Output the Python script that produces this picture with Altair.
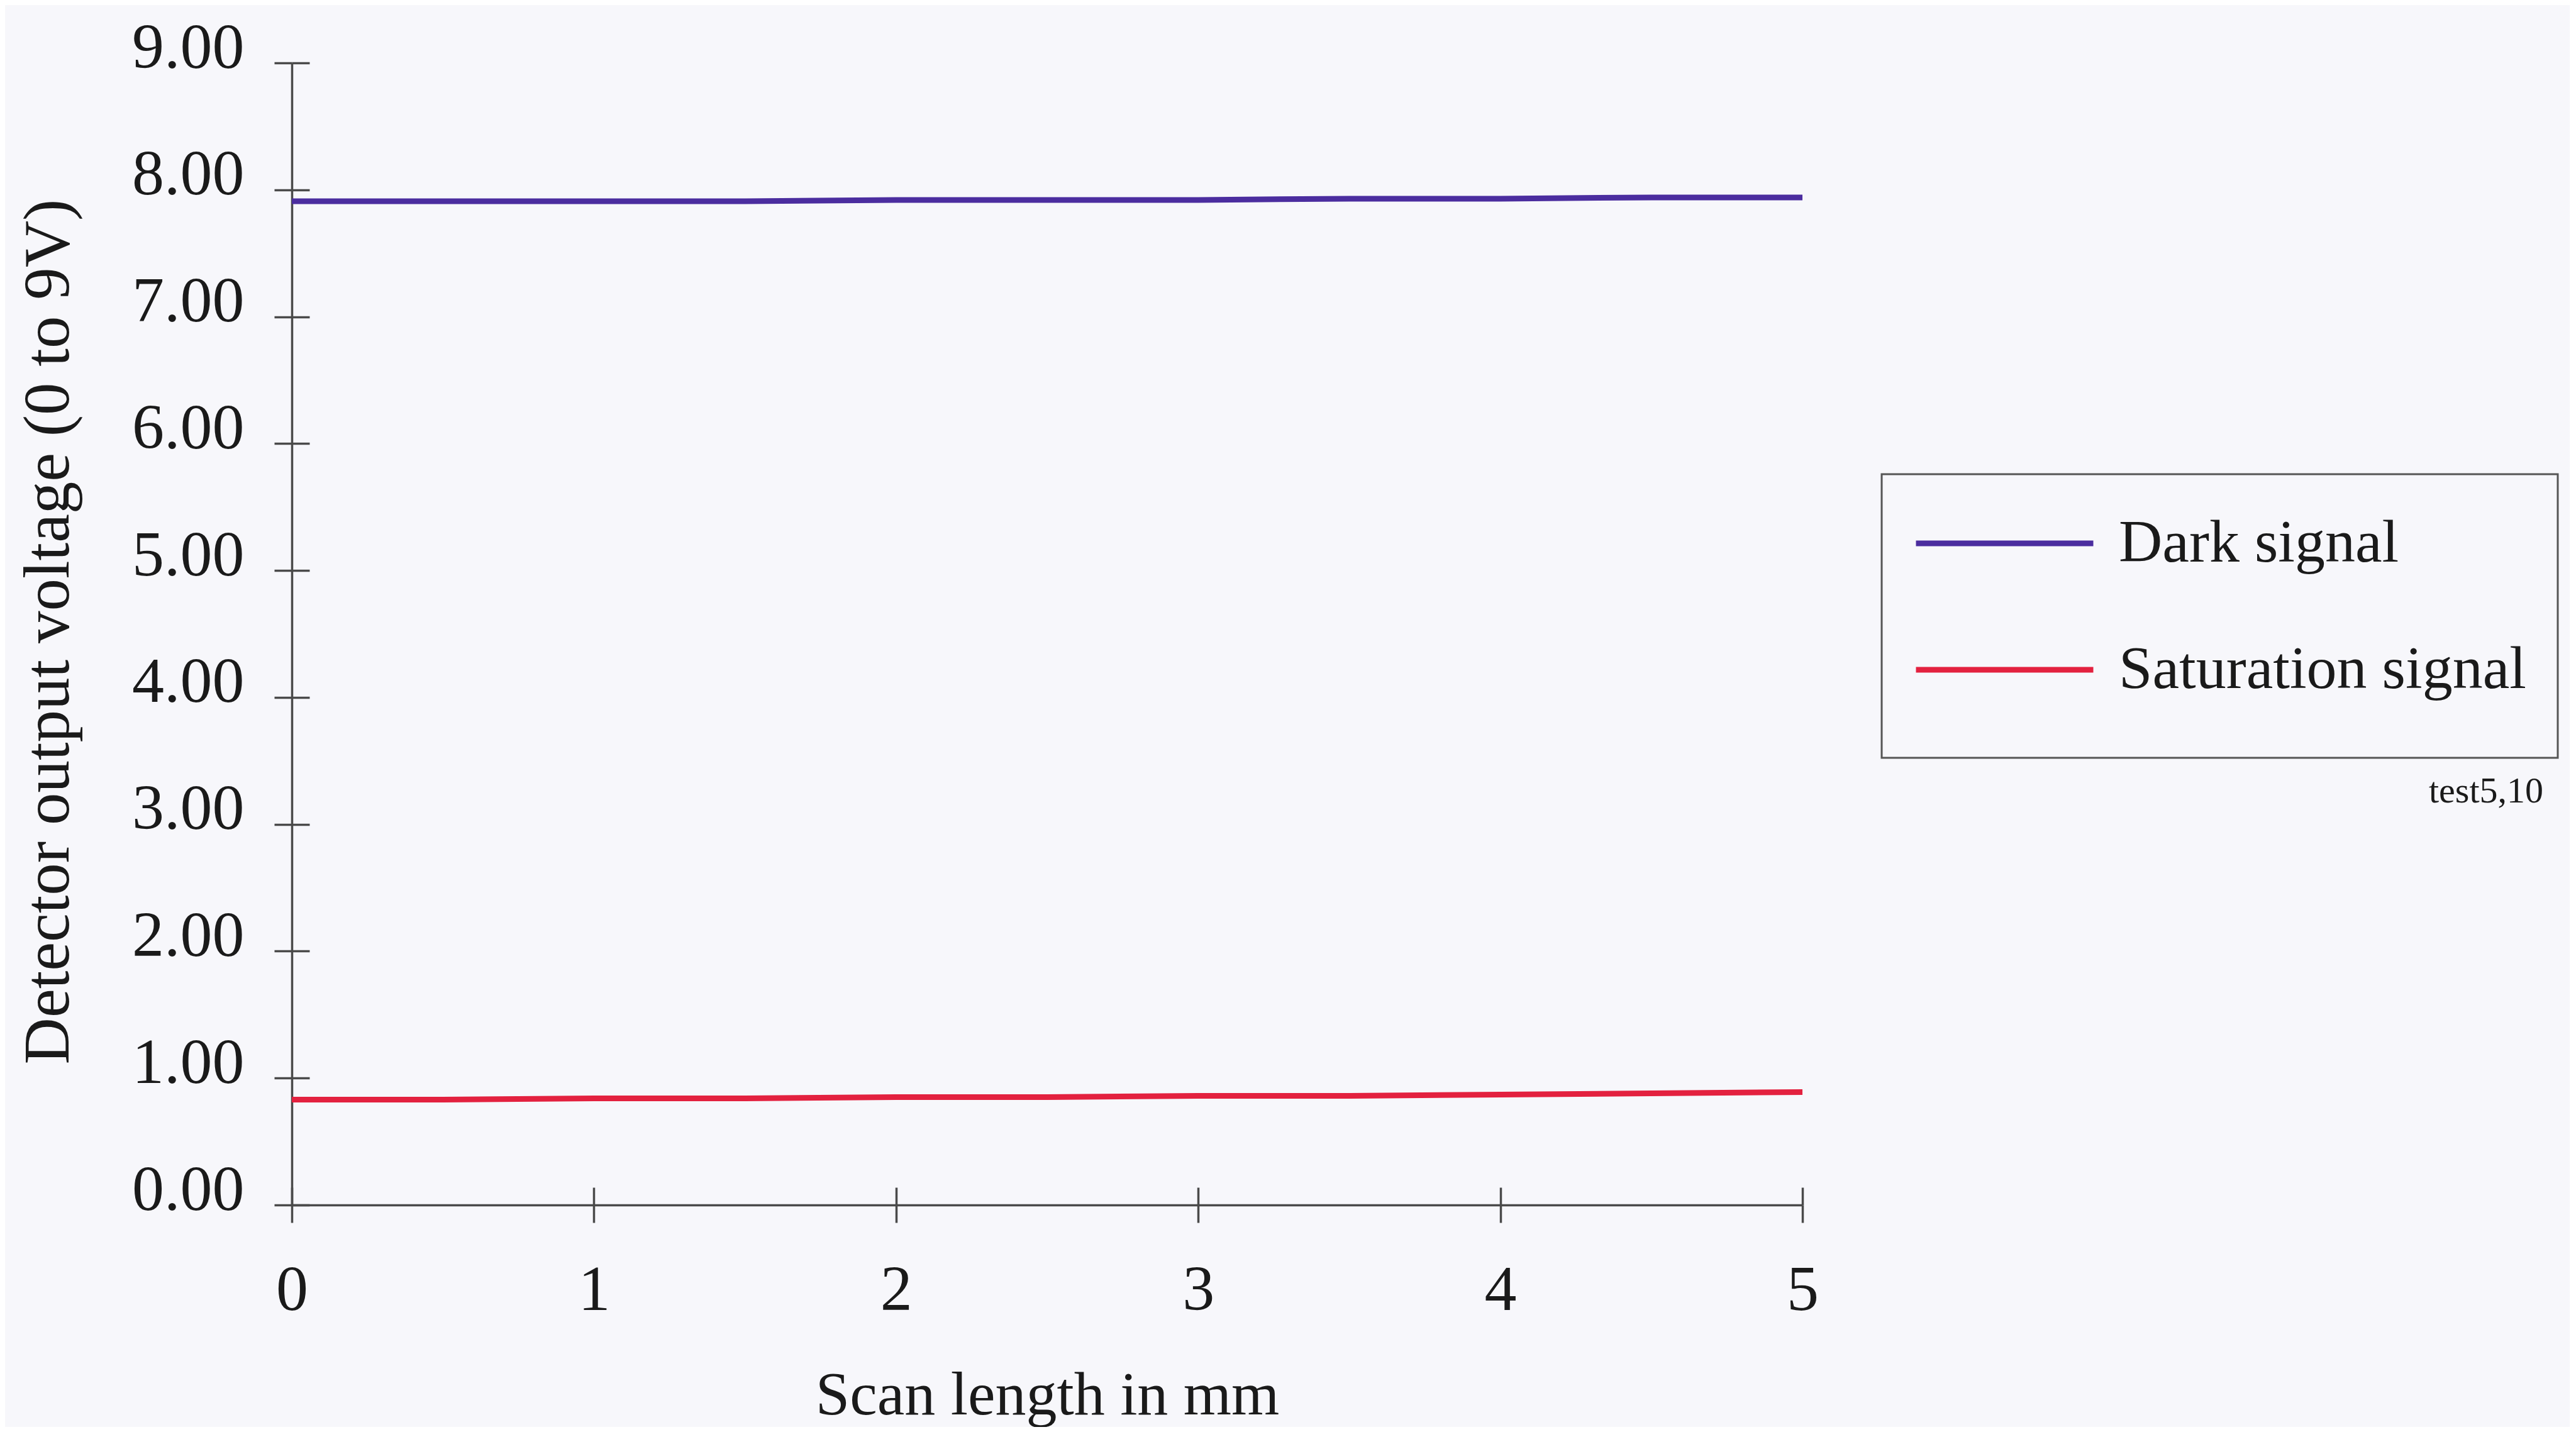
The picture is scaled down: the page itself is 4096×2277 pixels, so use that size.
import altair as alt
import pandas as pd

# --- data ---
scan_mm = [0, 0.5, 1, 1.5, 2, 2.5, 3, 3.5, 4, 4.5, 5]
dark_signal = [7.91, 7.91, 7.91, 7.91, 7.92, 7.92, 7.92, 7.93, 7.93, 7.94, 7.94]
saturation_signal = [0.83, 0.83, 0.84, 0.84, 0.85, 0.85, 0.86, 0.86, 0.87, 0.88, 0.89]
series_names = ["Dark signal", "Saturation signal"]
series_colors = ["#4b2d9f", "#e3213f"]
y_ticks = [0, 1, 2, 3, 4, 5, 6, 7, 8, 9]
x_ticks = [0, 1, 2, 3, 4, 5]
note_text = ["test5,10"]

rows = []
for x, d, s in zip(scan_mm, dark_signal, saturation_signal):
    rows.append({"x": x, "v": d, "series": series_names[0]})
    rows.append({"x": x, "v": s, "series": series_names[1]})
df = pd.DataFrame(rows)

FONT = "Liberation Serif"
AXIS_COLOR = "#4a4a4a"
TICK = 28
W, H = 2402, 1816

xscale = alt.Scale(domain=[0, 5], nice=False, zero=False)
yscale = alt.Scale(domain=[0, 9], nice=False, zero=False)

x_main = alt.Axis(
    values=x_ticks, format="d", grid=False,
    domainColor=AXIS_COLOR, domainWidth=3.5,
    tickColor=AXIS_COLOR, tickWidth=3.5, tickSize=TICK,
    labelFont=FONT, labelFontSize=102, labelColor="#1a1a1a",
    labelBaseline="alphabetic", labelPadding=138, labelFlush=False,
    title="Scan length in mm", titleFont=FONT, titleFontSize=98,
    titleFontWeight="normal", titleColor="#1a1a1a",
    titleBaseline="alphabetic", titleY=332,
)
y_main = alt.Axis(
    values=y_ticks, format=".2f", grid=False,
    domainColor=AXIS_COLOR, domainWidth=3.5,
    tickColor=AXIS_COLOR, tickWidth=3.5, tickSize=TICK,
    labelFont=FONT, labelFontSize=102, labelColor="#1a1a1a",
    labelBaseline="alphabetic", labelOffset=7, labelPadding=48, labelFlush=False,
    title="Detector output voltage (0 to 9V)", titleFont=FONT, titleFontSize=103,
    titleFontWeight="normal", titleColor="#1a1a1a",
    titleBaseline="alphabetic", titleAngle=270, titleX=-356, titleY=904,
)

lines = alt.Chart(df).mark_line(strokeWidth=9).encode(
    x=alt.X("x:Q", scale=xscale, axis=x_main),
    y=alt.Y("v:Q", scale=yscale, axis=y_main),
    color=alt.Color(
        "series:N",
        scale=alt.Scale(domain=series_names, range=series_colors),
        legend=alt.Legend(
            title=" ", titleOrient="bottom", titleFontSize=20, titlePadding=10,
            orient="none", legendX=2528, legendY=654,
            symbolType="stroke", symbolSize=282 * 282, symbolStrokeWidth=9,
            clipHeight=120,
            labelFont=FONT, labelFontSize=96, labelColor="#1a1a1a",
            labelOffset=36, labelLimit=0, rowPadding=81, padding=50,
            strokeColor="#555555", fillColor="#f7f7fb",
        ),
    ),
    detail="series:N",
)

# inner half of the crossing tick marks
inner = alt.Chart(df).mark_line(opacity=0).encode(
    x=alt.X("x:Q", scale=xscale, axis=alt.Axis(
        orient="bottom", offset=-TICK, values=x_ticks, domain=False, labels=False,
        grid=False, tickColor=AXIS_COLOR, tickWidth=3.5, tickSize=TICK, title=None)),
    y=alt.Y("v:Q", scale=yscale, axis=alt.Axis(
        orient="left", offset=-TICK, values=y_ticks, domain=False, labels=False,
        grid=False, tickColor=AXIS_COLOR, tickWidth=3.5, tickSize=TICK, title=None)),
    detail="series:N",
)

note = alt.Chart(pd.DataFrame({"t": note_text})).mark_text(
    font=FONT, fontSize=58, align="right", baseline="alphabetic", color="#1a1a1a"
).encode(text="t:N", x=alt.value(3580), y=alt.value(1176))

chart = alt.layer(lines, inner, note).resolve_axis(
    x="independent", y="independent"
).properties(
    width=W, height=H,
    autosize=alt.AutoSizeParams(type="none"),
    padding={"left": 456, "top": 92, "right": 1220, "bottom": 353},
    background="#f7f7fb",
).configure_view(stroke=None).configure_legend(strokeWidth=3)

chart.save("out.html", embed_options={"renderer": "svg", "actions": False})
